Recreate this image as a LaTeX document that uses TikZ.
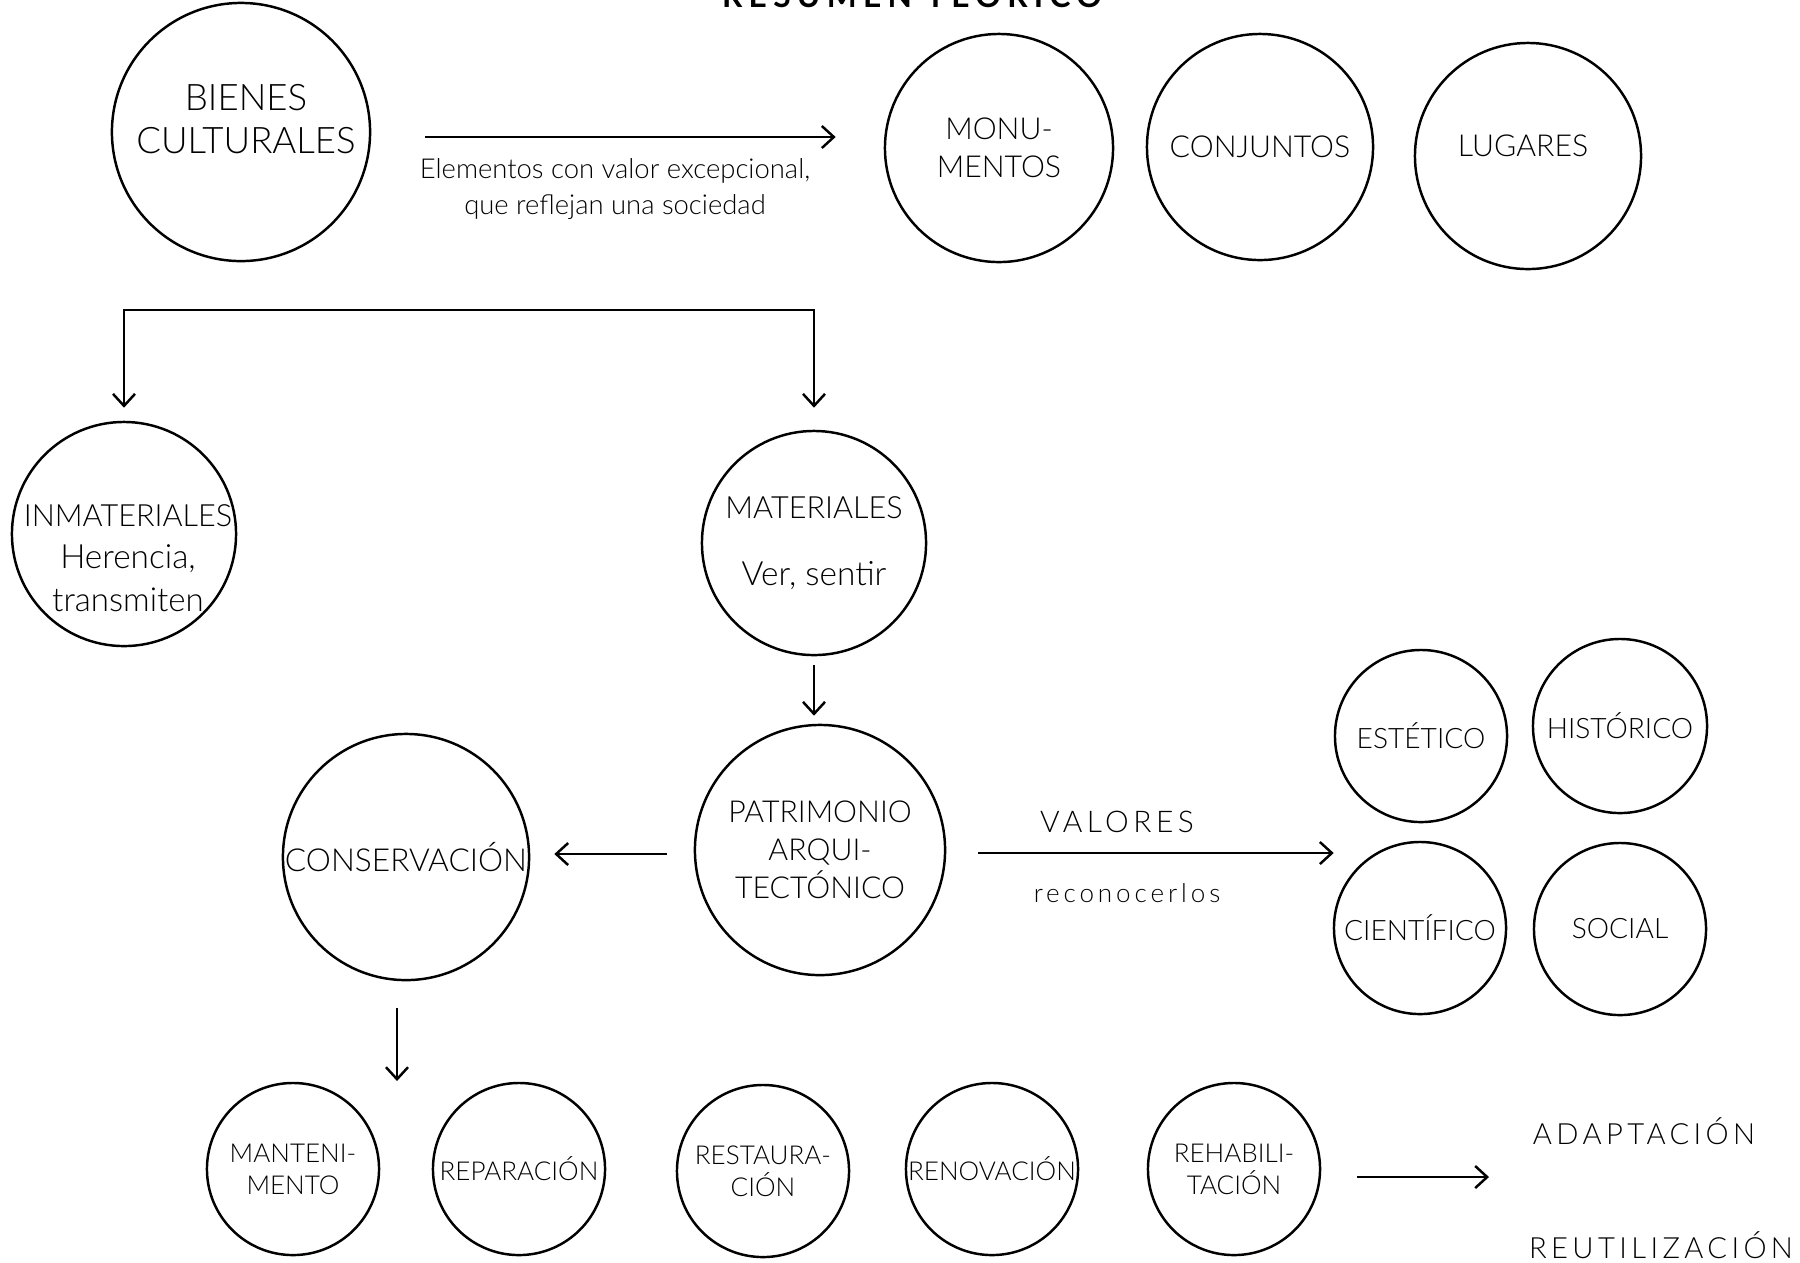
\documentclass[tikz,border=0pt]{standalone}
\usepackage{fontspec}
\usepackage{tikz}
\usetikzlibrary{arrows.meta}
\IfFontExistsTF{Lato Light}{\def\lightname{Lato Light}}{\def\lightname{Lato}}
\setmainfont{\lightname}
\newfontfamily\spacedfont{\lightname}[LetterSpace=15]
\newfontfamily\titlefont{Lato}[LetterSpace=20]

\tikzset{
  circ/.style={draw, circle, inner sep=0pt, align=center, minimum size=#1},
  txt/.style={align=center, inner sep=0pt},
  bigtxt/.style={font=\fontsize{10.4}{12}\selectfont},
  midtxt/.style={font=\fontsize{8.6}{10.8}\selectfont},
  smalltxt/.style={font=\fontsize{8}{9.2}\selectfont},
  tinytxt/.style={font=\fontsize{7.4}{9.1}\selectfont},
  note/.style={align=center, inner sep=0pt, font=\fontsize{7.8}{10.4}\selectfont},
  spaced/.style={inner sep=0pt, font=\spacedfont\fontsize{8.3}{10}\selectfont},
}

\begin{document}
\begin{tikzpicture}[x=0.01cm, y=-0.01cm, line width=0.7pt,
    >={Straight Barb[length=1.2mm, width=2.2mm]}]
    \fill[white] (0,0) rectangle (1800,1262);
    \useasboundingbox (0,0) rectangle (1800,1262);

    \node[anchor=base, inner sep=0pt, font=\titlefont\bfseries\fontsize{9}{10}\selectfont] (title) at (912,7) {RESUMEN TEÓRICO};

    % fila de arriba
    \node[circ=2.58cm] (bienes) at (241,132) {};
    \node[txt, bigtxt] (bienes-txt) at (246,119) {BIENES\\CULTURALES};
    \node[circ=2.28cm, midtxt] (monu) at (999,148) {MONU-\\MENTOS};
    \node[circ=2.26cm, midtxt] (conj) at (1260,147) {CONJUNTOS};
    \node[circ=2.26cm] (lug) at (1528,156) {};
    \node[txt, midtxt] (lug-txt) at (1523,146) {LUGARES};
    \draw[->, shorten <=0.54cm, shorten >=0.48cm] ([yshift=-0.05cm]bienes.east) -- ([yshift=-0.05cm]bienes.east -| monu.west);
    \node[note] (excep) at (615,189) {Elementos con valor excepcional,\\que reflejan una sociedad};

    % inmateriales / materiales
    \node[circ=2.24cm] (inmat) at (124,534) {};
    \node[txt, font=\fontsize{8.7}{12}\selectfont] (inmat-txt) at (128,558) {INMATERIALES\\{\fontsize{9.5}{12}\selectfont Herencia,}\\{\fontsize{9.4}{12}\selectfont transmiten}};
    \node[circ=2.24cm, font=\fontsize{8.7}{11}\selectfont] (mat) at (814,543) {MATERIALES\\[8pt]{\fontsize{9.5}{13}\selectfont Ver, sentir}};
    \coordinate (bar) at (0,310);
    \draw[<->, shorten <=0.13cm, shorten >=0.22cm] (inmat.north) -- (inmat.north |- bar) -- (mat.north |- bar) -- (mat.north);

    % patrimonio
    \node[circ=2.5cm, midtxt] (patr) at (820,850) {PATRIMONIO\\ARQUI-\\TECTÓNICO};
    \draw[->, shorten <=0.09cm, shorten >=0.08cm] (mat.south) -- (mat.south |- patr.north);
    \node[circ=2.46cm, font=\fontsize{9}{11}\selectfont] (cons) at (406,857) {CONSERVACIÓN};
    \draw[->, shorten <=0.27cm, shorten >=0.24cm] ([yshift=-0.04cm]patr.west) -- ([yshift=-0.04cm]patr.west -| cons.east);

    % valores
    \node[circ=1.72cm, smalltxt] (est) at (1421,736) {ESTÉTICO};
    \node[circ=1.74cm, smalltxt] (hist) at (1620,726) {HISTÓRICO};
    \node[circ=1.72cm, smalltxt] (cien) at (1420,928) {CIENTÍFICO};
    \node[circ=1.72cm, smalltxt] (soc) at (1620,929) {SOCIAL};
    \draw[->, shorten <=0.32cm] ([yshift=-0.03cm]patr.east) -- ([yshift=-0.03cm]patr.east -| est.west);
    \node[spaced, font=\spacedfont\fontsize{8.5}{11}\selectfont] (valores) at (1117,822) {VALORES};
    \node[spaced, font=\spacedfont\fontsize{7.4}{10}\selectfont] (recon) at (1127,893) {reconocerlos};

    % tipos de intervencion
    \node[circ=1.72cm, tinytxt] (mant) at (293,1169) {MANTENI-\\MENTO};
    \node[circ=1.72cm, tinytxt] (rep) at (519,1169) {REPARACIÓN};
    \node[circ=1.72cm, tinytxt] (rest) at (763,1171) {RESTAURA-\\CIÓN};
    \node[circ=1.72cm, tinytxt] (reno) at (992,1169) {RENOVACIÓN};
    \node[circ=1.72cm, tinytxt] (rehab) at (1234,1169) {REHABILI-\\TACIÓN};
    \coordinate (tipos) at (397,1081);
    \draw[->, shorten <=0.27cm] (tipos |- cons.south) -- (tipos);

    \node[spaced] (adapt) at (1644,1131) {ADAPTACIÓN};
    \node[spaced] (reutil) at (1661,1245) {REUTILIZACIÓN};
    \coordinate (usos) at (1489,1177);
    \draw[->, shorten <=0.36cm] (rehab.east |- usos) -- (usos);
\end{tikzpicture}
\end{document}
